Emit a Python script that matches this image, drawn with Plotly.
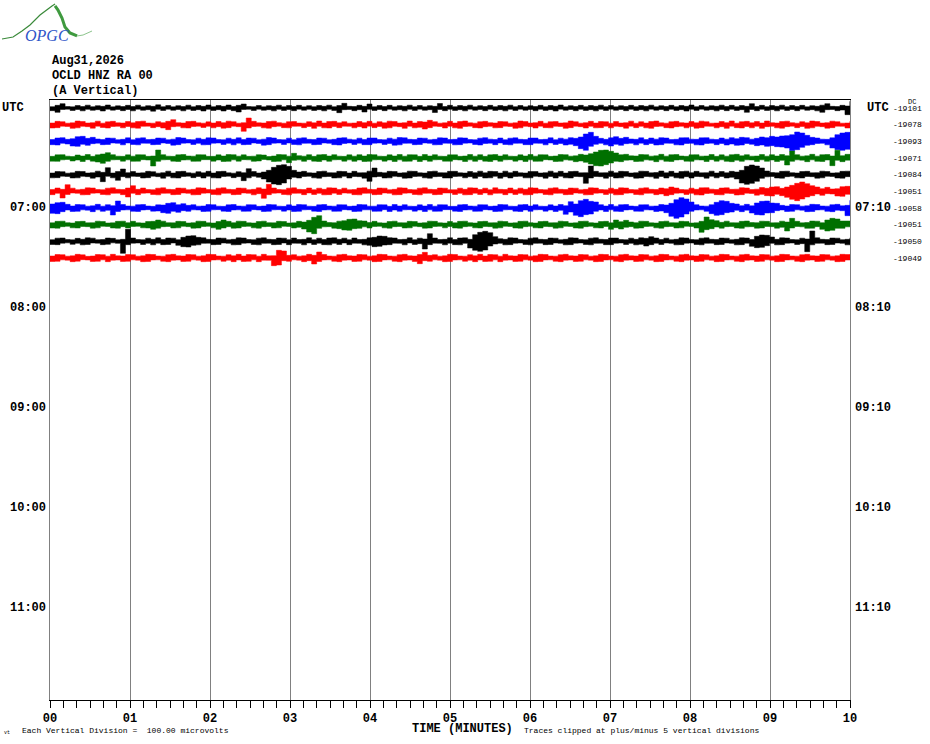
import numpy as np
import plotly.graph_objects as go

# helicorder OCLD HNZ RA 00, one row per 10 minutes, 06:00 .. 07:30 UTC
# peak half-swing in microvolts per 3.75 s window (16 windows per minute, one line per minute)
amp_0600 = [8, 16, 26, 9, 7, 15, 9, 17, 8, 14, 10, 18, 7, 13, 9, 16,
            9, 17, 7, 14, 10, 19, 8, 15, 7, 14, 9, 17, 8, 15, 10, 18,
            8, 15, 10, 18, 9, 16, 24, 9, 8, 15, 7, 14, 10, 17, 8, 15,
            9, 16, 7, 14, 8, 15, 10, 17, 8, 15, 28, 10, 9, 16, 10, 24,
            8, 15, 9, 16, 7, 14, 10, 17, 8, 15, 7, 14, 10, 27, 9, 16,
            8, 15, 10, 17, 7, 14, 9, 16, 8, 15, 10, 17, 8, 15, 7, 14,
            9, 16, 8, 15, 10, 18, 7, 14, 9, 16, 8, 15, 10, 17, 8, 15,
            7, 14, 9, 16, 8, 15, 10, 17, 7, 14, 9, 16, 8, 15, 10, 18,
            8, 15, 7, 14, 10, 17, 9, 16, 8, 15, 10, 26, 9, 16, 8, 15,
            10, 17, 8, 15, 9, 16, 7, 14, 10, 17, 26, 10, 9, 16, 12, 40]
amp_0610 = [10, 20, 18, 9, 11, 22, 19, 10, 12, 21, 9, 17, 20, 11, 10, 19,
            11, 19, 21, 10, 9, 18, 12, 20, 30, 12, 10, 19, 20, 11, 9, 17,
            10, 19, 12, 21, 18, 9, 12, 40, 20, 11, 10, 19, 21, 12, 9, 18,
            19, 10, 9, 18, 11, 22, 10, 19, 20, 11, 18, 9, 10, 19, 12, 20,
            9, 18, 11, 21, 19, 10, 12, 22, 10, 19, 16, 26, 18, 9, 11, 20,
            10, 19, 22, 11, 9, 18, 20, 12, 10, 19, 18, 9, 11, 22, 19, 10,
            12, 20, 9, 18, 19, 10, 11, 22, 18, 9, 12, 20, 10, 19, 18, 9,
            19, 10, 12, 21, 9, 18, 10, 19, 22, 11, 9, 18, 20, 12, 10, 19,
            11, 21, 18, 9, 10, 19, 12, 22, 9, 18, 20, 11, 19, 10, 22, 12,
            10, 19, 21, 12, 9, 18, 11, 22, 19, 10, 12, 21, 18, 9, 10, 20]
amp_0620 = [11, 20, 22, 12, 16, 28, 30, 18, 24, 14, 11, 20, 19, 10, 12, 21,
            10, 19, 21, 11, 12, 20, 19, 10, 13, 23, 20, 11, 10, 19, 12, 21,
            20, 11, 10, 19, 12, 21, 11, 20, 19, 10, 13, 23, 20, 11, 10, 19,
            10, 19, 21, 12, 11, 20, 19, 10, 12, 20, 22, 13, 10, 19, 11, 20,
            20, 11, 10, 19, 13, 23, 21, 12, 11, 20, 19, 10, 12, 21, 20, 11,
            12, 21, 20, 11, 10, 19, 22, 13, 11, 20, 10, 19, 21, 12, 11, 20,
            20, 11, 12, 21, 10, 19, 13, 22, 18, 26, 44, 54, 30, 18, 12, 21,
            28, 18, 24, 14, 12, 21, 11, 20, 13, 22, 20, 11, 12, 21, 22, 13,
            12, 21, 22, 13, 11, 20, 13, 22, 16, 24, 22, 13, 18, 26, 22, 30,
            26, 32, 34, 40, 56, 50, 36, 24, 20, 13, 12, 21, 40, 50, 54, 48]
amp_0630 = [10, 19, 20, 11, 9, 18, 12, 21, 10, 19, 24, 32, 20, 11, 10, 19,
            11, 20, 19, 10, 12, 48, 20, 11, 10, 19, 21, 12, 11, 20, 19, 10,
            10, 19, 12, 21, 20, 11, 19, 10, 11, 20, 18, 9, 12, 21, 20, 11,
            28, 14, 11, 20, 10, 19, 21, 12, 20, 11, 10, 19, 11, 20, 12, 21,
            20, 11, 10, 19, 12, 21, 11, 20, 19, 10, 21, 12, 20, 11, 10, 19,
            19, 10, 12, 21, 11, 20, 10, 19, 21, 12, 20, 11, 10, 19, 12, 21,
            11, 20, 19, 10, 12, 21, 20, 11, 13, 22, 18, 26, 36, 46, 48, 40,
            30, 20, 22, 13, 12, 21, 20, 11, 13, 22, 11, 20, 21, 12, 10, 19,
            20, 11, 12, 21, 10, 19, 11, 20, 22, 13, 20, 11, 12, 21, 11, 20,
            12, 21, 14, 42, 20, 11, 13, 22, 11, 20, 21, 12, 46, 14, 22, 13]
amp_0640 = [10, 19, 18, 9, 11, 20, 19, 10, 12, 21, 14, 42, 10, 19, 34, 12,
            19, 10, 11, 20, 18, 9, 12, 21, 10, 19, 20, 11, 9, 18, 11, 20,
            10, 19, 20, 11, 9, 18, 12, 36, 19, 10, 16, 26, 44, 56, 60, 50,
            26, 16, 20, 11, 10, 19, 21, 12, 11, 20, 19, 10, 20, 11, 12, 21,
            40, 14, 11, 20, 19, 10, 12, 21, 20, 11, 10, 19, 21, 12, 11, 20,
            20, 11, 10, 19, 12, 21, 11, 20, 19, 10, 21, 12, 20, 11, 10, 19,
            19, 10, 12, 21, 11, 20, 10, 19, 20, 11, 12, 52, 20, 11, 12, 21,
            11, 20, 19, 10, 12, 21, 20, 11, 13, 22, 11, 20, 10, 19, 21, 12,
            20, 11, 12, 21, 10, 19, 11, 20, 16, 26, 50, 58, 52, 40, 22, 13,
            11, 20, 21, 12, 10, 19, 20, 11, 12, 21, 19, 10, 11, 20, 21, 12]
amp_0650 = [11, 20, 12, 40, 19, 10, 12, 21, 20, 11, 10, 19, 21, 12, 11, 20,
            34, 12, 20, 11, 10, 19, 21, 12, 11, 20, 19, 10, 12, 21, 20, 11,
            10, 19, 21, 12, 11, 20, 19, 10, 12, 21, 14, 42, 20, 11, 10, 19,
            21, 12, 11, 20, 10, 19, 12, 21, 20, 11, 19, 10, 11, 20, 21, 12,
            11, 20, 19, 10, 12, 21, 20, 11, 10, 19, 21, 12, 11, 20, 19, 10,
            10, 19, 12, 21, 20, 11, 19, 10, 21, 12, 11, 20, 10, 19, 12, 21,
            20, 11, 10, 19, 21, 12, 11, 20, 19, 10, 12, 21, 20, 11, 10, 19,
            12, 21, 20, 11, 10, 19, 21, 12, 11, 20, 16, 26, 20, 11, 10, 19,
            12, 21, 22, 13, 11, 20, 21, 12, 13, 22, 20, 11, 13, 23, 18, 26,
            28, 18, 26, 36, 48, 56, 46, 34, 26, 16, 24, 14, 16, 28, 30, 18]
amp_0700 = [24, 32, 34, 22, 12, 21, 20, 11, 13, 22, 11, 20, 14, 42, 21, 12,
            11, 20, 21, 12, 10, 19, 18, 28, 32, 20, 26, 16, 20, 11, 12, 21,
            20, 11, 10, 19, 21, 12, 11, 20, 19, 10, 12, 21, 20, 11, 10, 19,
            12, 21, 20, 11, 10, 19, 21, 12, 11, 20, 19, 10, 12, 21, 20, 11,
            11, 20, 19, 10, 21, 12, 20, 11, 10, 19, 12, 21, 11, 20, 19, 10,
            10, 19, 21, 12, 11, 20, 19, 10, 12, 21, 20, 11, 10, 19, 21, 12,
            20, 11, 10, 19, 12, 21, 14, 38, 24, 44, 52, 40, 36, 20, 12, 21,
            11, 20, 21, 12, 10, 19, 20, 11, 12, 21, 18, 28, 50, 62, 54, 36,
            20, 12, 11, 20, 34, 44, 40, 28, 24, 14, 22, 13, 30, 40, 42, 30,
            28, 16, 12, 21, 20, 11, 13, 22, 21, 12, 11, 20, 22, 13, 16, 46]
amp_0710 = [11, 20, 21, 12, 10, 19, 20, 11, 12, 21, 19, 10, 11, 20, 21, 12,
            20, 11, 10, 19, 20, 28, 21, 12, 11, 20, 19, 10, 12, 21, 20, 11,
            10, 19, 28, 20, 12, 21, 20, 11, 10, 19, 21, 12, 11, 20, 19, 10,
            11, 20, 16, 26, 44, 54, 22, 13, 12, 21, 24, 32, 34, 24, 22, 13,
            20, 11, 10, 19, 21, 12, 11, 20, 19, 10, 12, 21, 20, 11, 10, 19,
            11, 20, 21, 12, 10, 19, 20, 11, 12, 21, 19, 10, 11, 20, 21, 12,
            10, 19, 20, 11, 12, 21, 19, 10, 11, 20, 21, 12, 10, 19, 20, 11,
            28, 18, 26, 16, 12, 21, 20, 11, 10, 19, 21, 12, 11, 20, 19, 10,
            11, 20, 46, 30, 24, 14, 21, 12, 11, 20, 22, 13, 12, 21, 20, 11,
            12, 21, 16, 38, 20, 11, 13, 22, 21, 12, 28, 38, 34, 22, 22, 13]
amp_0720 = [10, 19, 20, 11, 9, 18, 12, 21, 19, 10, 11, 20, 18, 9, 12, 72,
            20, 11, 10, 19, 12, 21, 11, 20, 19, 10, 24, 32, 34, 24, 21, 12,
            11, 20, 19, 10, 12, 21, 20, 11, 10, 19, 21, 12, 11, 20, 19, 10,
            20, 11, 12, 21, 10, 19, 11, 20, 21, 12, 19, 10, 20, 11, 12, 21,
            24, 32, 30, 22, 20, 11, 12, 21, 10, 19, 14, 46, 20, 11, 12, 21,
            11, 20, 21, 12, 40, 54, 60, 52, 28, 16, 12, 21, 20, 11, 10, 19,
            21, 12, 11, 20, 19, 10, 12, 21, 20, 11, 10, 19, 21, 12, 11, 20,
            20, 11, 10, 19, 12, 21, 18, 28, 20, 11, 19, 10, 12, 21, 20, 11,
            10, 19, 21, 12, 11, 20, 19, 10, 12, 21, 20, 11, 30, 38, 36, 26,
            12, 21, 20, 11, 10, 19, 14, 62, 21, 12, 11, 20, 19, 10, 12, 21]
amp_0730 = [12, 21, 20, 11, 13, 22, 19, 10, 12, 21, 20, 11, 22, 13, 12, 21,
            20, 11, 13, 22, 21, 12, 11, 20, 22, 13, 12, 21, 20, 11, 13, 22,
            21, 12, 11, 20, 13, 22, 12, 21, 20, 11, 22, 13, 14, 46, 42, 16,
            20, 11, 13, 22, 16, 36, 21, 12, 11, 20, 22, 13, 12, 21, 20, 11,
            13, 22, 21, 12, 11, 20, 22, 13, 12, 21, 34, 16, 20, 11, 13, 22,
            21, 12, 11, 20, 13, 22, 12, 21, 20, 11, 22, 13, 12, 21, 20, 11,
            13, 22, 21, 12, 11, 20, 22, 13, 12, 21, 20, 11, 13, 22, 21, 12,
            11, 20, 22, 13, 12, 21, 20, 11, 13, 22, 21, 12, 11, 20, 22, 13,
            12, 21, 20, 11, 13, 22, 21, 12, 11, 20, 22, 13, 12, 21, 20, 11,
            13, 22, 21, 12, 11, 20, 22, 13, 12, 21, 20, 11, 13, 22, 21, 12]

rows = [amp_0600, amp_0610, amp_0620, amp_0630, amp_0640,
        amp_0650, amp_0700, amp_0710, amp_0720, amp_0730]
dc_offsets = [-19101, -19078, -19093, -19071, -19084, -19051, -19058, -19051, -19050, -19049]
hour_rows = [6, 12, 18, 24, 30]
left_labels = ["07:00", "08:00", "09:00", "10:00", "11:00"]
right_labels = ["07:10", "08:10", "09:10", "10:10", "11:10"]
minute_ticks = list(range(11))

colors = ["#000000", "#ff0000", "#0000ff", "#007000"]
UV_PER_DIV = 100.0
MONO = "Liberation Mono"

fig = go.Figure()

for i, amp in enumerate(rows):
    c = colors[i % 4]
    t = np.linspace(0, 10, len(amp))
    a = np.clip(np.array(amp) / UV_PER_DIV, -5, 5)
    # max/min of each window drawn as a stepped band
    fig.add_trace(go.Scatter(
        x=np.concatenate([t, t[::-1]]),
        y=np.concatenate([i - a, (i + a)[::-1]]),
        fill="toself", fillcolor=c,
        mode="lines", line=dict(color=c, width=0.5, shape="hv"),
        hoverinfo="skip", showlegend=False,
    ))


def label(x, y, text, size=12, xanchor="center", yref="paper", color="black"):
    return dict(x=x, y=y, xref="paper", yref=yref, text=text, xanchor=xanchor,
                yanchor="middle", showarrow=False,
                font=dict(family=MONO, size=size, color=color))


ann = []
# left / right time labels
ann.append(label(-0.0625, 0, "<b>UTC</b>", xanchor="left", yref="y"))
ann.append(label(1.0185, 0, "<b>UTC</b>", xanchor="left", yref="y"))
for r, lt, rt in zip(hour_rows, left_labels, right_labels):
    ann.append(label(-0.0025, r, f"<b>{lt}</b>", xanchor="right", yref="y"))
    ann.append(label(1.0035, r, f"<b>{rt}</b>", xanchor="left", yref="y"))
# DC offsets
for i, dc in enumerate(dc_offsets):
    ann.append(label(1.0925, i, str(dc), size=8, xanchor="right", yref="y"))
ann.append(label(1.077, 0.997, "DC", size=7))

# header
for yy, txt in [(1.065, "Aug31,2026"), (1.04, "OCLD HNZ RA 00"), (1.015, "(A Vertical)")]:
    ann.append(label(0, yy, f"<b>{txt}</b>", xanchor="left"))

# footer
ann.append(label(0.515, -0.048, "<b>TIME (MINUTES)</b>"))
ann.append(label(-0.0375, -0.051, "Each Vertical Division =  100.00 microvolts", size=8, xanchor="left"))
ann.append(label(0.59, -0.051, "Traces clipped at plus/minus 5 vertical divisions", size=8, xanchor="left"))
ann.append(label(-0.06, -0.055, "vt", size=5, xanchor="left"))


def px(xp, yp):
    return (xp - 50) / 800, (700 - yp) / 600


def path(points):
    pts = [px(*p) for p in points]
    return "M " + " L ".join(f"{a:.4f},{b:.4f}" for a, b in pts)


# logo
lx, ly = px(47, 36)
ann.append(dict(x=lx, y=ly, xref="paper", yref="paper", text="<i>OPGC</i>",
                xanchor="center", yanchor="middle", showarrow=False,
                font=dict(family="Liberation Serif", size=16, color="#2f55c8")))

shapes = [
    dict(type="path", xref="paper", yref="paper",
         path=path([(2, 39), (13, 37), (22, 31), (30, 25), (40, 15), (48, 9), (52, 6), (55, 4)]),
         line=dict(color="#3a8a3a", width=1.2)),
    dict(type="path", xref="paper", yref="paper",
         path=path([(55, 6), (58, 10), (62, 18), (65, 27), (70, 33), (77, 36)]),
         line=dict(color="#3f9a3f", width=3)),
    dict(type="path", xref="paper", yref="paper",
         path=path([(77, 36), (83, 35), (92, 31)]),
         line=dict(color="#8cc48c", width=1)),
]

fig.update_layout(
    width=930, height=744,
    margin=dict(l=50, r=80, t=100, b=44),
    paper_bgcolor="white", plot_bgcolor="white",
    showlegend=False,
    annotations=ann,
    shapes=shapes,
    xaxis=dict(
        range=[0, 10], tickvals=minute_ticks, ticktext=[f"<b>{m:02d}</b>" for m in minute_ticks],
        ticks="outside", ticklen=7, tickcolor="black", tickwidth=1,
        tickfont=dict(family=MONO, size=12, color="black"),
        showgrid=True, gridcolor="#808080", gridwidth=1,
        showline=True, linecolor="black", linewidth=1, mirror=True,
        zeroline=False,
        minor=dict(tick0=0, dtick=1 / 6, ticks="outside", ticklen=7, tickwidth=1,
                   tickcolor="black", showgrid=False),
    ),
    yaxis=dict(
        range=[35.52, -0.48], showticklabels=False, showgrid=False, zeroline=False,
        showline=True, linecolor="#808080", mirror=True, ticks="",
    ),
)

fig.write_html("out.html", config={"displayModeBar": False},
               post_script="document.body.style.margin='0';")
